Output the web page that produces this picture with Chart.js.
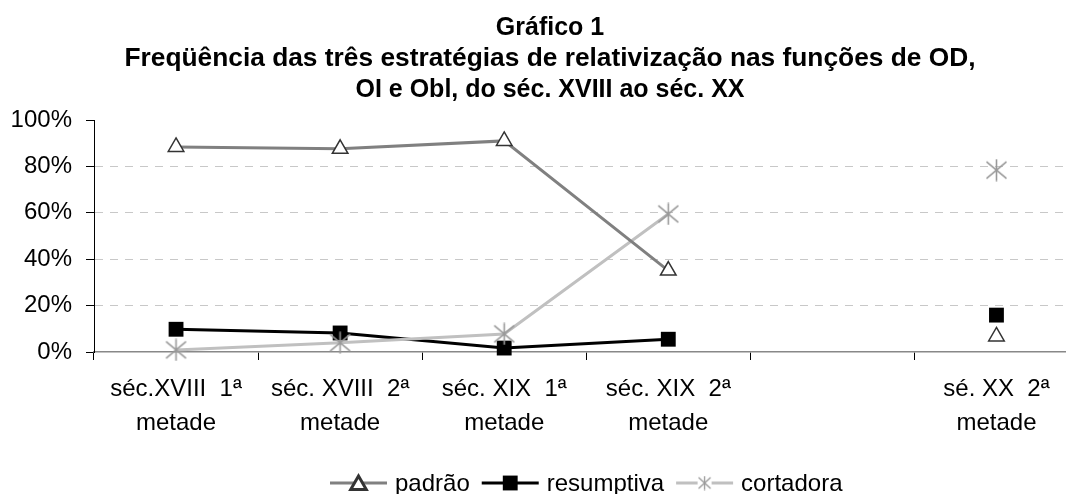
<!DOCTYPE html>
<html>
<head>
<meta charset="utf-8">
<script src="https://cdn.jsdelivr.net/npm/chart.js@4"></script>
<style>
    html, body { margin: 0; padding: 0; overflow: hidden; background: #fff; }
</style>
</head>
<body>
<canvas id="grafico" width="1089" height="494"></canvas>
<script>
    "use strict";
    const FONT = '"Liberation Sans", Arial, sans-serif';

    const titleLines = [
        'Gráfico 1',
        'Freqüência das três estratégias de relativização nas funções de OD,',
        'OI e Obl, do séc. XVIII ao séc. XX'
    ];
    const categories = [
        ['séc.XVIII  1ª', 'metade'],
        ['séc. XVIII  2ª', 'metade'],
        ['séc. XIX  1ª', 'metade'],
        ['séc. XIX  2ª', 'metade'],
        '',
        ['sé. XX  2ª', 'metade']
    ];
    const yTicks = [0, 20, 40, 60, 80, 100];
    const padrao = [88.4, 87.6, 91.0, 35.1, null, 6.7];
    const resumptiva = [9.8, 8.2, 1.7, 5.5, null, 15.9];
    const cortadora = [0.9, 4.0, 7.8, 59.5, null, 78.4];

    // asterisk marker (x plus vertical bar)
    function makeStar(size, color, width) {
        const c = document.createElement('canvas');
        c.width = size;
        c.height = size;
        const g = c.getContext('2d');
        const m = size / 2;
        g.strokeStyle = color;
        g.lineWidth = width;
        g.beginPath();
        g.moveTo(m, 0.5); g.lineTo(m, size - 0.5);
        g.moveTo(1.5, size * 0.14); g.lineTo(size - 1.5, size * 0.86);
        g.moveTo(size - 1.5, size * 0.14); g.lineTo(1.5, size * 0.86);
        g.stroke();
        return c;
    }
    const starBig = makeStar(23, '#999999', 1.6);
    const starSmall = makeStar(15, '#999999', 1.3);

    const titlePlugin = {
        id: 'titulo',
        afterDraw(chart) {
            const ctx = chart.ctx;
            const baselines = [35, 66, 97];
            const widths = [null, 851, null];
            ctx.save();
            ctx.fillStyle = '#000';
            ctx.font = 'bold 25px ' + FONT;
            ctx.textAlign = 'center';
            ctx.textBaseline = 'alphabetic';
            titleLines.forEach(function (t, i) {
                const w = ctx.measureText(t).width;
                const sx = widths[i] ? widths[i] / w : 1;
                ctx.save();
                ctx.translate(550, baselines[i]);
                ctx.scale(sx, 1);
                ctx.fillText(t, 0, 0);
                ctx.restore();
            });
            ctx.restore();
        }
    };

    const legendPlugin = {
        id: 'legenda',
        afterDraw(chart) {
            const ctx = chart.ctx;
            const area = chart.chartArea;
            const sample = 57, gapText = 8, gapItem = 12, y = 483;
            ctx.save();
            ctx.font = '24px ' + FONT;
            let total = 0;
            chart.data.datasets.forEach(function (ds, i) {
                total += sample + gapText + ctx.measureText(ds.label).width;
                if (i > 0) total += gapItem;
            });
            let x = (area.left + area.right) / 2 - total / 2;
            chart.data.datasets.forEach(function (ds) {
                ctx.strokeStyle = ds.borderColor;
                ctx.lineWidth = 3;
                ctx.beginPath();
                ctx.moveTo(x, y);
                ctx.lineTo(x + sample, y);
                ctx.stroke();
                const cx = x + sample / 2;
                if (ds.legendStar) {
                    ctx.fillStyle = '#fff';
                    ctx.fillRect(cx - 7, y - 7, 14, 14);
                    ctx.drawImage(starSmall, cx - 7.5, y - 7.5);
                } else {
                    ctx.fillStyle = ds.pointBackgroundColor;
                    ctx.strokeStyle = ds.pointBorderColor;
                    Chart.helpers.drawPoint(ctx, {
                        pointStyle: ds.pointStyle,
                        radius: ds.pointRadius,
                        rotation: 0,
                        borderWidth: ds.pointBorderWidth
                    }, cx, y + (ds.pointStyle === 'triangle' ? 2 : 0));
                }
                x += sample + gapText;
                ctx.fillStyle = '#000';
                ctx.textAlign = 'left';
                ctx.textBaseline = 'alphabetic';
                ctx.fillText(ds.label, x, y + 8);
                x += ctx.measureText(ds.label).width + gapItem;
            });
            ctx.restore();
        }
    };

    new Chart(document.getElementById('grafico').getContext('2d'), {
        type: 'line',
        data: {
            labels: categories,
            datasets: [{
                label: 'padrão',
                data: padrao,
                order: 0,
                borderColor: '#808080',
                borderWidth: 3,
                pointStyle: 'triangle',
                pointRadius: 9,
                pointBackgroundColor: '#ffffff',
                pointBorderColor: '#333333',
                pointBorderWidth: 1.5,
                clip: false
            }, {
                label: 'resumptiva',
                data: resumptiva,
                order: 2,
                borderColor: '#000000',
                borderWidth: 3,
                pointStyle: 'rect',
                pointRadius: 10.5,
                pointBackgroundColor: '#000000',
                pointBorderColor: '#000000',
                pointBorderWidth: 0,
                clip: false
            }, {
                label: 'cortadora',
                data: cortadora,
                order: 1,
                borderColor: '#c0c0c0',
                borderWidth: 3,
                pointStyle: starBig,
                pointBackgroundColor: '#999999',
                pointBorderColor: '#999999',
                legendStar: true,
                clip: false
            }]
        },
        options: {
            responsive: false,
            animation: false,
            events: [],
            layout: {
                padding: { top: 120, right: 0, bottom: 52, left: 0 }
            },
            plugins: {
                legend: { display: false },
                title: { display: false },
                tooltip: { enabled: false }
            },
            scales: {
                x: {
                    offset: true,
                    afterFit: function (scale) { scale.height = 90; },
                    grid: {
                        offset: true,
                        drawOnChartArea: false,
                        tickLength: 8,
                        color: '#000',
                        tickColor: '#000'
                    },
                    border: { color: '#888888', width: 1.5 },
                    ticks: {
                        maxRotation: 0,
                        autoSkip: false,
                        padding: 12,
                        color: '#000',
                        font: { family: FONT, size: 24, lineHeight: 1.42 }
                    }
                },
                y: {
                    min: 0,
                    max: 100,
                    afterFit: function (scale) { scale.width = 94; },
                    afterBuildTicks: function (scale) {
                        scale.ticks = yTicks.map(function (v) { return { value: v }; });
                    },
                    grid: {
                        tickLength: 8,
                        tickColor: '#000',
                        tickBorderDash: [],
                        color: function (c) {
                            const v = c.tick ? c.tick.value : null;
                            return (v === 0 || v === 100) ? 'rgba(0,0,0,0)' : '#c8c8c8';
                        }
                    },
                    border: { color: '#000', width: 1, dash: [8, 7] },
                    ticks: {
                        padding: 14,
                        color: '#000',
                        font: { family: FONT, size: 24 },
                        callback: function (v) { return v + '%'; }
                    }
                }
            }
        },
        plugins: [titlePlugin, legendPlugin]
    });
</script>
</body>
</html>
